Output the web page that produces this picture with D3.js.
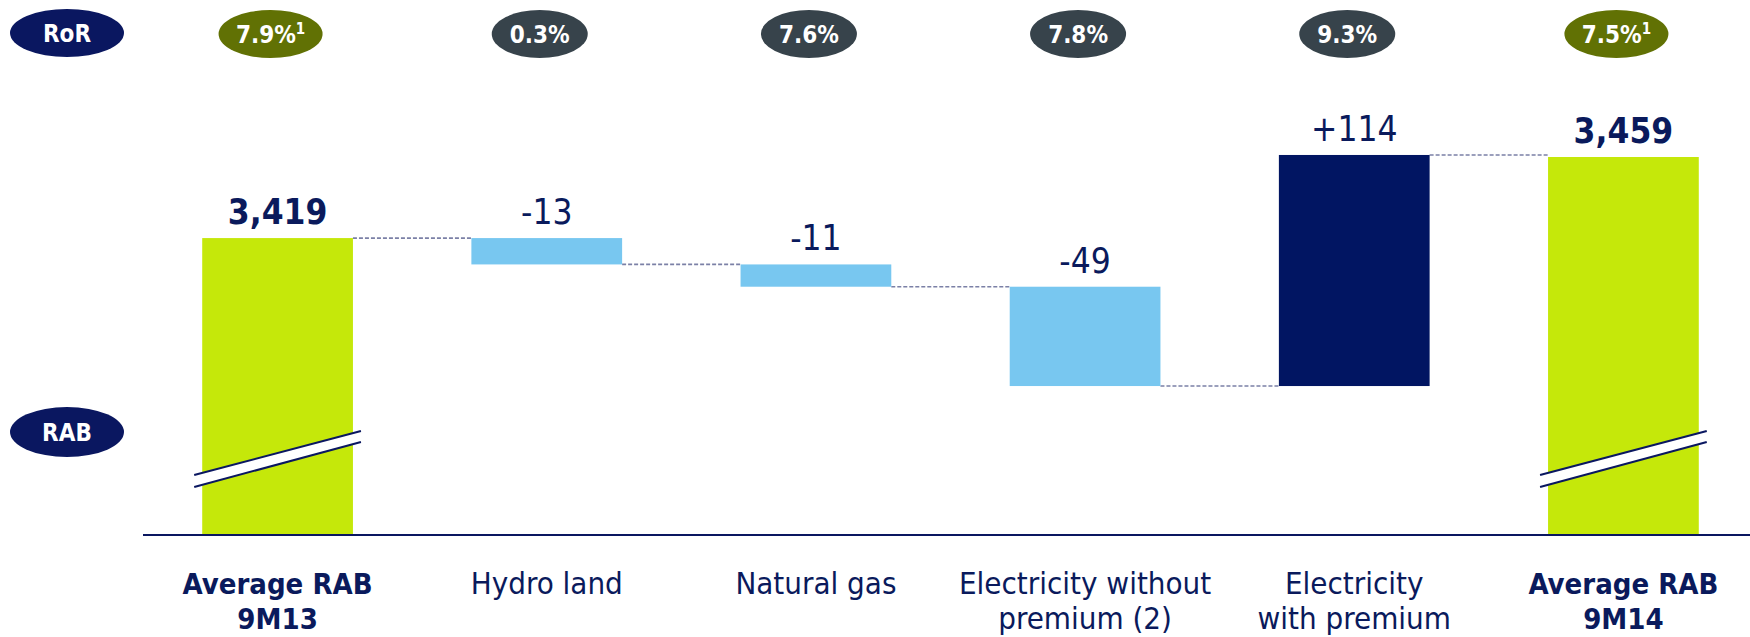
<!DOCTYPE html>
<html lang="en">
<head>
<meta charset="UTF-8">
<title>Average RAB bridge</title>
<script src="https://d3js.org/d3.v7.min.js"></script>
<style>
body { margin: 0; background: #fff; }
text { font-family: "DejaVu Sans Condensed", "DejaVu Sans", sans-serif; font-stretch: condensed; }
.cat { font-size: 31px; fill: #0a1a5c; text-anchor: middle; }
.cat.bold { font-weight: bold; font-size: 29px; }
.val { font-size: 35px; fill: #0a1a5c; text-anchor: middle; }
.val.bold { font-weight: bold; }
.pill { font-size: 24px; fill: #fff; font-weight: bold; text-anchor: middle; }
</style>
</head>
<body>
<div id="chart"></div>
<script>
// data
var categories = [["Average RAB", "9M13"], ["Hydro land"], ["Natural gas"],
                  ["Electricity without", "premium (2)"], ["Electricity", "with premium"], ["Average RAB", "9M14"]];
var values = [3419, -13, -11, -49, 114, 3459];
var kinds = ["total", "delta", "delta", "delta", "delta", "total"];
var valueLabels = ["3,419", "-13", "-11", "-49", "+114", "3,459"];
var rorLabels = ["7.9%", "0.3%", "7.6%", "7.8%", "9.3%", "7.5%"];
var rorNotes = ["1", "", "", "", "", "1"];
var rowLabels = ["RoR", "RAB"];

var width = 1750, height = 637;
var navy = "#0a1760", lime = "#c5e80a", sky = "#78c7f0", deep = "#011562";
var olive = "#617104", slate = "#37434b";

var svg = d3.select("#chart").append("svg")
    .attr("width", width).attr("height", height);

var baseY = 534;
var x = d3.scaleBand()
    .domain(d3.range(values.length))
    .range([143, 1758])
    .paddingInner(0.44)
    .paddingOuter(0.22);
var y = d3.scaleLinear()
    .domain([3273, 3459])
    .range([baseY, 157]);

// waterfall steps
var running = 0;
var steps = values.map(function(v, i) {
    var s;
    if (kinds[i] == "total") {
        s = {i: i, lo: y.domain()[0], hi: v, end: v};
        running = v;
    } else {
        var start = running;
        running = running + v;
        s = {i: i, lo: Math.min(start, running), hi: Math.max(start, running), end: running};
    }
    return s;
});

function barColor(d) {
    if (kinds[d.i] == "total") return lime;
    return values[d.i] < 0 ? sky : deep;
}

// dashed connectors
svg.selectAll("line.conn")
    .data(steps.slice(0, -1))
    .enter().append("line")
    .attr("class", "conn")
    .attr("x1", function(d) { return x(d.i) + x.bandwidth(); })
    .attr("x2", function(d) { return x(d.i + 1); })
    .attr("y1", function(d) { return y(d.end); })
    .attr("y2", function(d) { return y(d.end); })
    .attr("stroke", "#7b80a6")
    .attr("stroke-width", 1.6)
    .attr("stroke-dasharray", "4,2");

svg.selectAll("rect.bar")
    .data(steps)
    .enter().append("rect")
    .attr("class", "bar")
    .attr("x", function(d) { return x(d.i); })
    .attr("width", x.bandwidth())
    .attr("y", function(d) { return y(d.hi); })
    .attr("height", function(d) { return y(d.lo) - y(d.hi); })
    .attr("fill", barColor);

// axis break marks on the total bars
var totals = steps.filter(function(d) { return kinds[d.i] == "total"; });
totals.forEach(function(d) {
    var x0 = x(d.i) - 8, x1 = x(d.i) + x.bandwidth() + 8;
    var g = svg.append("g");
    g.append("polygon")
        .attr("points", [[x0, 475], [x1, 431], [x1, 442], [x0, 487]].join(" "))
        .attr("fill", "#fff");
    [[475, 431], [487, 442]].forEach(function(p) {
        g.append("line")
            .attr("x1", x0).attr("y1", p[0])
            .attr("x2", x1).attr("y2", p[1])
            .attr("stroke", navy).attr("stroke-width", 2);
    });
});

// baseline
svg.append("line")
    .attr("x1", 143).attr("x2", width)
    .attr("y1", baseY + 1).attr("y2", baseY + 1)
    .attr("stroke", navy).attr("stroke-width", 2);

// value labels
svg.selectAll("text.val")
    .data(steps)
    .enter().append("text")
    .attr("class", function(d) { return kinds[d.i] == "total" ? "val bold" : "val"; })
    .attr("x", function(d) { return x(d.i) + x.bandwidth() / 2; })
    .attr("y", function(d) { return y(d.hi) - 14; })
    .text(function(d) { return valueLabels[d.i]; });

// category labels
var cats = svg.selectAll("text.cat")
    .data(categories)
    .enter().append("text")
    .attr("class", function(d, i) { return kinds[i] == "total" ? "cat bold" : "cat"; })
    .attr("x", function(d, i) { return x(i) + x.bandwidth() / 2; })
    .attr("y", 594);
cats.selectAll("tspan")
    .data(function(d) { return d; })
    .enter().append("tspan")
    .attr("x", function() { return d3.select(this.parentNode).attr("x"); })
    .attr("dy", function(d, j) { return j == 0 ? 0 : 35; })
    .text(function(d) { return d; });

// RoR pills
var pills = svg.selectAll("g.pill")
    .data(rorLabels)
    .enter().append("g")
    .attr("class", "pill")
    .attr("transform", function(d, i) {
        return "translate(" + (x(i) + x.bandwidth() / 2 - 7) + ",34)";
    });
pills.append("ellipse")
    .attr("rx", function(d, i) { return rorNotes[i] ? 52 : 48; })
    .attr("ry", 24)
    .attr("fill", function(d, i) { return rorNotes[i] ? olive : slate; });
var pt = pills.append("text")
    .attr("class", "pill")
    .attr("y", 9);
pt.append("tspan").text(function(d) { return d; });
pt.append("tspan")
    .attr("font-size", "15px")
    .attr("dy", -9)
    .text(function(d, i) { return rorNotes[i]; });

// row labels
var rows = svg.selectAll("g.row")
    .data(rowLabels)
    .enter().append("g")
    .attr("transform", function(d, i) { return "translate(67," + (i == 0 ? 33 : 432) + ")"; });
rows.append("ellipse")
    .attr("rx", 57).attr("ry", function(d, i) { return i == 0 ? 24 : 25; })
    .attr("fill", navy);
rows.append("text")
    .attr("class", "pill")
    .attr("y", 9)
    .text(function(d) { return d; });
</script>
</body>
</html>
